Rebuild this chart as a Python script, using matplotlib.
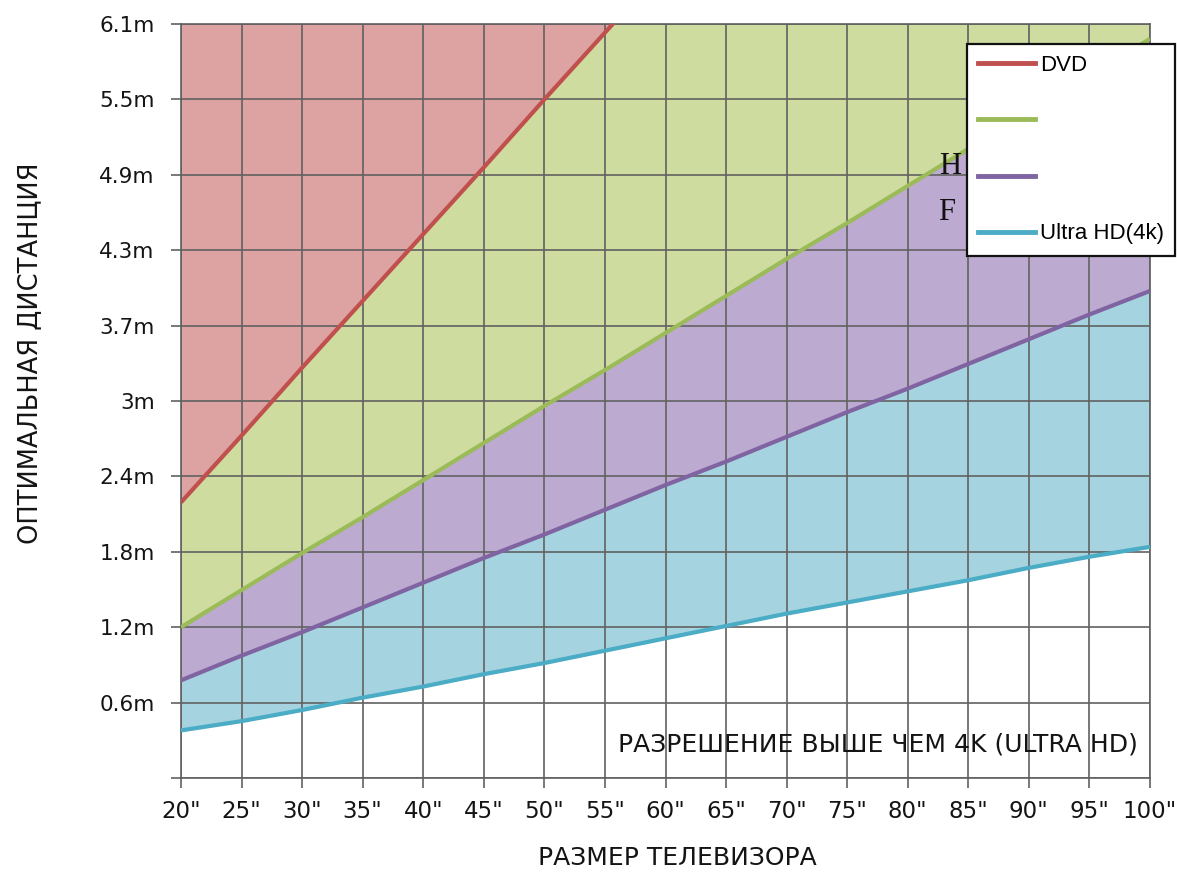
import matplotlib
matplotlib.use("Agg")
import matplotlib.pyplot as plt
from matplotlib.lines import Line2D
import numpy as np

# ---------------- data ----------------
sizes = [20, 25, 30, 35, 40, 45, 50, 55, 60, 65, 70, 75, 80, 85, 90, 95, 100]
dvd_sizes = [20, 25, 30, 35, 40, 45, 50, 55, 60]
dvd_dist = [2.23, 2.77, 3.32, 3.86, 4.40, 4.94, 5.49, 6.03, 6.57]
hd_dist = [1.22, 1.52, 1.82, 2.11, 2.41, 2.71, 3.01, 3.30, 3.60, 3.90, 4.20, 4.49,
           4.79, 5.09, 5.39, 5.68, 5.98]
fullhd_dist = [0.79, 0.99, 1.18, 1.38, 1.58, 1.78, 1.97, 2.17, 2.37, 2.56, 2.76, 2.96,
               3.15, 3.35, 3.55, 3.75, 3.94]
uhd_dist = [0.385, 0.46, 0.55, 0.65, 0.74, 0.84, 0.93, 1.03, 1.13, 1.23, 1.33, 1.42,
            1.51, 1.60, 1.70, 1.79, 1.87]

y_ticks = [0.0, 0.61, 1.22, 1.83, 2.44, 3.05, 3.66, 4.27, 4.88, 5.49, 6.10]
y_tick_labels = ["", "0.6m", "1.2m", "1.8m", "2.4m", "3m", "3.7m", "4.3m", "4.9m", "5.5m", "6.1m"]
x_tick_labels = [f'{s}"' for s in sizes]
legend_labels = ["DVD", "", "", "Ultra HD(4k)"]

# ---------------- style ----------------
line_colors = ["#c0504d", "#9bbb59", "#8064a2", "#4bacc6"]
fill_colors = ["#dda2a2", "#cfdc9f", "#bdaad0", "#a6d3e0"]
grid_color = "#616161"
text_color = "#141414"

W, H = 1177, 872
fig = plt.figure(figsize=(W / 100, H / 100), dpi=100)
ax = fig.add_axes([181 / W, (H - 778) / H, (1150 - 181) / W, (778 - 24) / H])

ymax = 6.10
ax.set_xlim(20, 100)
ax.set_ylim(0, ymax)

# fills
dvd_full = np.interp(sizes, dvd_sizes, dvd_dist, right=10.0)
ax.fill_between(sizes, dvd_full, 10, color=fill_colors[0], lw=0, zorder=1)
ax.fill_between(sizes, hd_dist, dvd_full, color=fill_colors[1], lw=0, zorder=1)
ax.fill_between(sizes, fullhd_dist, hd_dist, color=fill_colors[2], lw=0, zorder=1)
ax.fill_between(sizes, uhd_dist, fullhd_dist, color=fill_colors[3], lw=0, zorder=1)

# lines
ax.plot(dvd_sizes, dvd_dist, color=line_colors[0], lw=3, zorder=3, solid_capstyle="butt")
ax.plot(sizes, hd_dist, color=line_colors[1], lw=3, zorder=3, solid_capstyle="butt")
ax.plot(sizes, fullhd_dist, color=line_colors[2], lw=3, zorder=3, solid_capstyle="butt")
ax.plot(sizes, uhd_dist, color=line_colors[3], lw=3, zorder=3, solid_capstyle="butt")

# grid / axes
ax.set_xticks(sizes)
ax.set_xticklabels(x_tick_labels)
ax.set_yticks(y_ticks)
ax.set_yticklabels(y_tick_labels)
ax.grid(True, color=grid_color, lw=1.2, zorder=2)
ax.set_axisbelow(False)
for sp in ax.spines.values():
    sp.set_color(grid_color)
    sp.set_linewidth(1.2)
    sp.set_zorder(2.5)
ax.tick_params(axis="both", colors=grid_color, length=7, width=1.2, labelcolor=text_color)
ax.tick_params(axis="x", labelsize=16.5, pad=9)
ax.tick_params(axis="y", labelsize=15.5, pad=12)

ax.set_xlabel("РАЗМЕР ТЕЛЕВИЗОРА", fontsize=18, color=text_color, va="top")
ax.xaxis.set_label_coords(0.512, -0.090)
ax.set_ylabel("ОПТИМАЛЬНАЯ ДИСТАНЦИЯ", fontsize=18.5, color=text_color)
ax.yaxis.set_label_coords(-0.142, 0.563)

ax.text(0.719, 0.045, "РАЗРЕШЕНИЕ ВЫШЕ ЧЕМ 4K (ULTRA HD)", transform=ax.transAxes,
        fontsize=18, color=text_color, ha="center", va="center", zorder=4)

# legend
handles = [Line2D([0], [0], color=c, lw=3.5) for c in line_colors]
leg = fig.legend(handles, legend_labels, loc="upper right",
                 bbox_to_anchor=(1175 / W, 1 - 44 / H),
                 prop={"family": "Liberation Sans", "size": 16},
                 frameon=True, fancybox=False, edgecolor="#111111", framealpha=1.0,
                 handlelength=2.6, handletextpad=0.2, labelspacing=1.58,
                 borderpad=0.5, borderaxespad=0)
leg.get_frame().set_linewidth(1.6)
leg.set_zorder(5)

# stray serif letters next to the legend
fig.text(950 / W, 1 - 167 / H, "H", family="Liberation Serif", fontsize=22,
         ha="center", va="center", color="#111111")
fig.text(947 / W, 1 - 212 / H, "F", family="Liberation Serif", fontsize=22,
         ha="center", va="center", color="#111111")

fig.savefig("out.png", dpi=100, facecolor="white")
